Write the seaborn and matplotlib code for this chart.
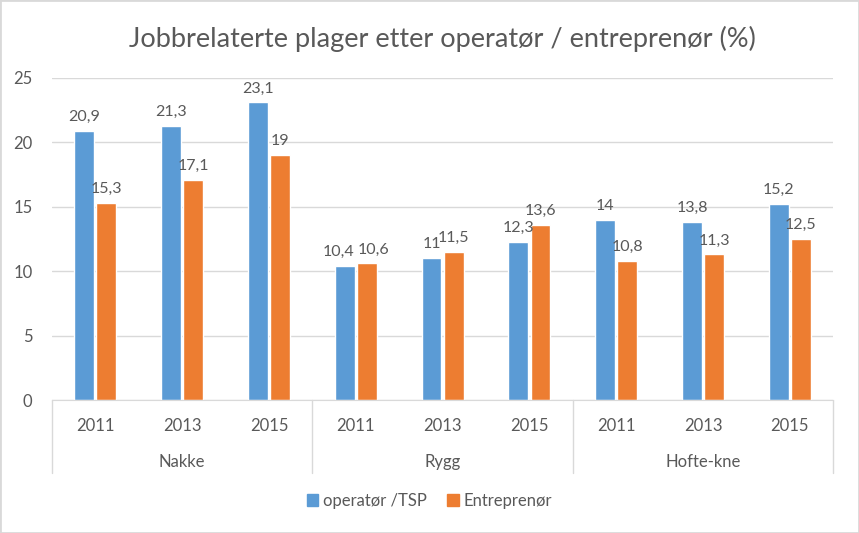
import pandas as pd
import numpy as np
import matplotlib.pyplot as plt
import seaborn as sns
from matplotlib.patches import Rectangle
from matplotlib.lines import Line2D

# ── data ──
groups = ['Nakke', 'Rygg', 'Hofte-kne']
years = ['2011', '2013', '2015']
series = ['operatør /TSP', 'Entreprenør']
operator_vals = [20.9, 21.3, 23.1, 10.4, 11.0, 12.3, 14.0, 13.8, 15.2]
entrepreneur_vals = [15.3, 17.1, 19.0, 10.6, 11.5, 13.6, 10.8, 11.3, 12.5]

colors = ['#5B9BD5', '#ED7D31']
text_color = '#595959'

cats = [f"{g} {y}" for g in groups for y in years]
df = pd.DataFrame({
    'cat': cats * 2,
    'serie': [series[0]] * len(cats) + [series[1]] * len(cats),
    'verdi': operator_vals + entrepreneur_vals,
})

sns.set_style('white')
plt.rcParams['font.family'] = ['Lato', 'DejaVu Sans']

fig = plt.figure(figsize=(8.59, 5.33), dpi=100)
ax = fig.add_axes([0.0605, 0.2495, 0.9095, 0.6042])

sns.barplot(data=df, x='cat', y='verdi', hue='serie', order=cats, hue_order=series,
            palette=colors, width=0.51, gap=0.1, saturation=1, ax=ax, legend=False)

ax.set_ylim(0, 25)
ax.set_xlim(-0.5, len(cats) - 0.5)
ax.set_yticks(range(0, 26, 5))
ax.yaxis.grid(True, color='#D9D9D9', linewidth=1)
ax.set_axisbelow(True)
for s in ['top', 'right', 'left']:
    ax.spines[s].set_visible(False)
ax.spines['bottom'].set_color('#D9D9D9')
ax.tick_params(axis='both', length=0, labelsize=12, colors=text_color)
ax.tick_params(axis='x', pad=13)
ax.tick_params(axis='y', pad=14)
ax.set_xticks(range(len(cats)))
ax.set_xticklabels(years * len(groups))
ax.set_xlabel('')
ax.set_ylabel('')

# data labels (nudge apart pairs with almost the same height, like Excel does)
all_labels = []
for cont in ax.containers:
    labels = [f"{b.get_height():g}".replace('.', ',') for b in cont]
    all_labels.append(ax.bar_label(cont, labels=labels, padding=5, fontsize=11.5,
                                   color=text_color))
for k in range(len(cats)):
    if abs(operator_vals[k] - entrepreneur_vals[k]) < 0.5:
        a, b = all_labels[0][k], all_labels[1][k]
        a.xyann = (a.xyann[0] - 4.5, a.xyann[1])
        b.xyann = (b.xyann[0] + 4.5, b.xyann[1])

# group separators and group labels
trans = ax.get_xaxis_transform()
for i in range(len(groups) + 1):
    x = i * len(years) - 0.5
    ax.add_line(Line2D([x, x], [0, -0.227], transform=trans, color='#D9D9D9',
                       linewidth=1, clip_on=False))
for i, g in enumerate(groups):
    ax.text(i * len(years) + 1, -0.193, g, transform=trans, ha='center', va='center',
            fontsize=12, color=text_color)

ax.set_title('Jobbrelaterte plager etter operatør / entreprenør (%)', fontsize=19.5,
             color=text_color, pad=22)

handles = [Rectangle((0, 0), 1, 1, color=c) for c in colors]
fig.legend(handles, series, loc='center', bbox_to_anchor=(0.5, 0.06), ncol=2, frameon=False,
           fontsize=12, labelcolor=text_color, handlelength=0.7, handleheight=0.7,
           handletextpad=0.3, columnspacing=1.2)

fig.patches.append(Rectangle((0, 0), 1, 1, transform=fig.transFigure, fill=False,
                             edgecolor='#D9D9D9', linewidth=2))

fig.savefig('out.png', dpi=100)
